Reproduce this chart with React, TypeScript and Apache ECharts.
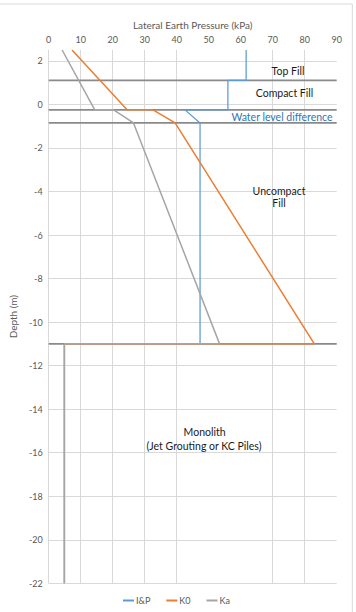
import React, { useEffect, useRef } from "react";
import * as echarts from "echarts";

// Lateral earth pressure profiles versus depth
const depthIP = [2.5, 1.1, 1.1, -0.25, -0.25, -0.85, -11];
const valueIP = [61.7, 61.7, 56, 56, 42.6, 47.3, 47.3];

const depthK0 = [2.5, -0.25, -0.25, -0.85, -11, -11, -22];
const valueK0 = [7.3, 24.5, 32.6, 39.5, 83, 4.9, 4.9];

const depthKa = [2.5, -0.25, -0.25, -0.85, -11, -11, -22];
const valueKa = [4.2, 14.4, 20.3, 26.5, 53.4, 4.9, 4.9];

// Soil layer boundaries (depth, m)
const layerDepths = [1.1, -0.25, -0.85, -11];

const seriesNames = ["I&P", "K0", "Ka"];
const seriesColors = ["#5B9BD5", "#ED7D31", "#A5A5A5"];
const seriesWidths = [1.25, 1.5, 1.5];

const FONT = "Lato, 'Liberation Sans', sans-serif";

const pairs = (xs: number[], ys: number[]) => xs.map((x, i) => [x, ys[i]]);

export default function App() {
  const ref = useRef<HTMLDivElement>(null);

  useEffect(() => {
    if (!ref.current) return;
    const chart = echarts.init(ref.current, undefined, { renderer: "svg" });

    const grid = "#D9D9D9";
    // vertical gridlines at 0..90; 50, 60 and 90 are not drawn
    const xSplitColors = [grid, grid, grid, grid, grid, "transparent", "transparent", grid, grid, "transparent"];
    // horizontal gridlines -22..2, no line at the top edge (2.5)
    const ySplitColors = [...Array(13).fill(grid), "transparent"];

    const layerSeries = layerDepths.map((d, i) => ({
      name: "layer" + i,
      type: "line",
      data: [
        [0, d],
        [90, d],
      ],
      symbol: "none",
      silent: true,
      lineStyle: { color: "#8A8A8A", width: 1.75 },
      z: 1,
    }));

    const profileData = [pairs(valueIP, depthIP), pairs(valueK0, depthK0), pairs(valueKa, depthKa)];
    const profileSeries = seriesNames.map((name, i) => ({
      name,
      type: "line",
      data: profileData[i],
      symbol: "none",
      lineStyle: { color: seriesColors[i], width: seriesWidths[i] },
      itemStyle: { color: seriesColors[i] },
      z: 2 + i,
    }));

    const annot = (text: string, x: number, y: number, color = "#1a1a1a", size = 10.5) => ({
      type: "text",
      x,
      y,
      style: {
        text,
        fill: color,
        font: `${size}px ${FONT}`,
        textAlign: "center",
        textVerticalAlign: "middle",
      },
      z: 10,
    });

    chart.setOption({
      animation: false,
      textStyle: { fontFamily: FONT },
      grid: { left: 48.3, right: 19.3, top: 50, bottom: 28.7 },
      xAxis: {
        type: "value",
        position: "top",
        min: 0,
        max: 90,
        interval: 10,
        name: "Lateral Earth Pressure (kPa)",
        nameLocation: "middle",
        nameGap: 20,
        nameTextStyle: { color: "#595959", fontSize: 10, fontFamily: FONT },
        axisLine: { show: false },
        axisTick: { show: false },
        axisLabel: { color: "#595959", fontSize: 9, margin: 6, fontFamily: FONT },
        splitLine: { show: true, lineStyle: { color: xSplitColors, width: 1 } },
      },
      yAxis: {
        type: "value",
        min: -22,
        max: 2.5,
        interval: 2,
        name: "Depth (m)",
        nameLocation: "middle",
        nameGap: 17,
        nameTextStyle: { color: "#595959", fontSize: 10, fontFamily: FONT },
        axisLine: { show: false },
        axisTick: { show: false },
        axisLabel: { color: "#595959", fontSize: 9, margin: 6, showMaxLabel: false, fontFamily: FONT },
        splitLine: { show: true, lineStyle: { color: ySplitColors, width: 1 } },
      },
      legend: {
        data: seriesNames,
        bottom: 2,
        left: 118,
        icon: "rect",
        itemWidth: 11,
        itemHeight: 2,
        itemGap: 16,
        textStyle: { color: "#595959", fontSize: 9, fontFamily: FONT, padding: [0, 0, 0, -3] },
      },
      series: [...layerSeries, ...profileSeries],
      graphic: [
        {
          type: "rect",
          shape: { x: -2, y: 4, width: 354.3, height: 620 },
          style: { fill: "none", stroke: "#D9D9D9", lineWidth: 1 },
          silent: true,
        },
        annot("Top Fill", 288, 70.7),
        annot("Compact Fill", 284.5, 93),
        annot("Water level difference", 282, 116.7, "#2E75B6"),
        annot("Uncompact", 279, 190.7),
        annot("Fill", 279, 202.7),
        annot("Monolith", 204.6, 432),
        annot("(Jet Grouting or KC Piles)", 204, 446),
      ],
    });

    return () => chart.dispose();
  }, []);

  return (
    <div
      ref={ref}
      style={{ position: "fixed", left: 0, top: 0, width: 356, height: 612, background: "#fff" }}
    />
  );
}
